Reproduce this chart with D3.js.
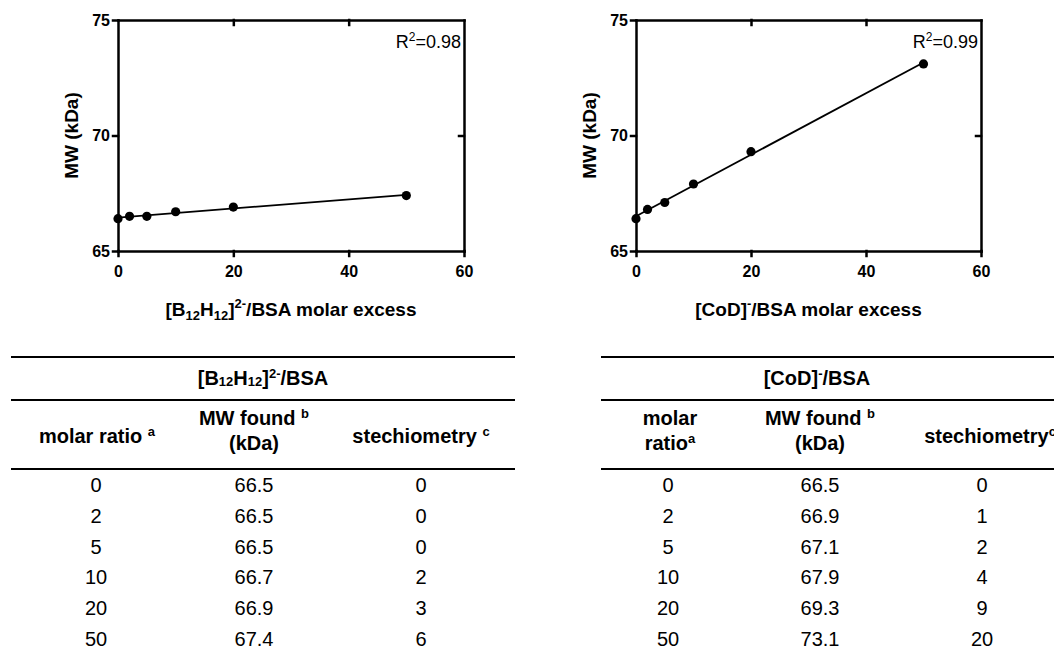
<!DOCTYPE html>
<html>
<head>
<meta charset="utf-8">
<title>MW vs molar excess</title>
<style>
  body { margin: 0; background: #fff; }
  svg { font-family: Arial, "Liberation Sans", Helvetica, sans-serif; }
  .axis path, .axis line { stroke: #000; stroke-width: 2.5px; stroke-linecap: square; }
  .axis text { font-size: 16px; font-weight: bold; fill: #000; font-family: Arial, "Liberation Sans", sans-serif; }
</style>
</head>
<body>
<script src="https://cdnjs.cloudflare.com/ajax/libs/d3/7.8.5/d3.min.js"></script>
<script>
// ---- data ----
var ratios = [0, 2, 5, 10, 20, 50];

// points
var b12Points = [66.4, 66.5, 66.5, 66.7, 66.9, 67.4];
var codPoints = [66.4, 66.8, 67.1, 67.9, 69.3, 73.1];

// table values
var b12MW = [66.5, 66.5, 66.5, 66.7, 66.9, 67.4];
var b12Stoich = [0, 0, 0, 2, 3, 6];
var codMW = [66.5, 66.9, 67.1, 67.9, 69.3, 73.1];
var codStoich = [0, 1, 2, 4, 9, 20];

var xTicks = [0, 20, 40, 60];
var yTicks = [65, 70, 75];
var b12R2 = "0.98";
var codR2 = "0.99";

var svg = d3.select("body").append("svg")
    .attr("width", 1054)
    .attr("height", 663);

// text with sub/superscripts: parts = [[text, kind], ...]
function richText(g, parts, opts) {
    var t = g.append("text")
        .attr("x", opts.x).attr("y", opts.y)
        .attr("text-anchor", opts.anchor || "middle")
        .attr("font-size", opts.size)
        .attr("font-weight", opts.weight || "normal")
        .attr("fill", "#000");
    var offset = 0;
    parts.forEach(function(p) {
        var kind = p[1] || "";
        var shift = 0, size = null;
        if (kind === "sub") { shift = opts.subShift; size = opts.subSize; }
        if (kind === "sup") { shift = -opts.supShift; size = opts.supSize; }
        var ts = t.append("tspan").text(p[0]).attr("dy", shift - offset);
        if (size) ts.attr("font-size", size);
        offset = shift;
    });
    return t;
}

/*********************************
 * Scatter plots with linear fit
 *********************************/

function drawPlot(left, right, values, r2, titleParts) {
    var top = 20, bottom = 251;
    var x = d3.scaleLinear().domain([0, 60]).range([left, right]);
    var y = d3.scaleLinear().domain([65, 75]).range([bottom, top]);
    var g = svg.append("g");

    // least squares fit
    var mx = d3.mean(ratios), my = d3.mean(values);
    var sxy = d3.sum(ratios, function(d, i) { return (d - mx) * (values[i] - my); });
    var sxx = d3.sum(ratios, function(d) { return (d - mx) * (d - mx); });
    var slope = sxy / sxx, icept = my - slope * mx;
    var ends = [0, d3.max(ratios)];

    g.append("path")
        .datum(ends)
        .attr("fill", "none")
        .attr("stroke", "#000")
        .attr("stroke-width", 1.8)
        .attr("d", d3.line()
            .x(function(d) { return x(d); })
            .y(function(d) { return y(icept + slope * d); }));

    g.selectAll("circle")
        .data(ratios)
        .enter()
        .append("circle")
        .attr("cx", function(d) { return x(d); })
        .attr("cy", function(d, i) { return y(values[i]); })
        .attr("r", 4.6)
        .attr("fill", "#000");

    g.append("g").attr("class", "axis")
        .attr("transform", "translate(0," + top + ")")
        .call(d3.axisTop(x).tickValues([20, 40]).tickSize(-5).tickSizeOuter(0).tickFormat(""));
    g.append("g").attr("class", "axis")
        .attr("transform", "translate(" + right + ",0)")
        .call(d3.axisRight(y).tickValues([70]).tickSize(-5).tickSizeOuter(0).tickFormat(""));
    g.append("g").attr("class", "axis")
        .attr("transform", "translate(0," + bottom + ")")
        .call(d3.axisBottom(x).tickValues(xTicks).tickSize(5).tickSizeOuter(0).tickPadding(10));
    g.append("g").attr("class", "axis")
        .attr("transform", "translate(" + left + ",0)")
        .call(d3.axisLeft(y).tickValues(yTicks).tickSize(5).tickSizeOuter(0).tickPadding(3));

    // R squared
    richText(g, [["R"], ["2", "sup"], ["=" + r2]], {
        x: right - 3, y: 48, anchor: "end", size: 18,
        supShift: 7, supSize: 12
    });

    // y title
    g.append("text")
        .attr("transform", "translate(" + (left - 40) + "," + ((top + bottom) / 2) + ") rotate(-90)")
        .attr("text-anchor", "middle")
        .attr("font-size", 19)
        .attr("font-weight", "bold")
        .text("MW (kDa)");

    // x title
    richText(g, titleParts, {
        x: (left + right) / 2, y: 316, size: 19, weight: "bold",
        subShift: 4, subSize: 13, supShift: 8, supSize: 13
    });
}

drawPlot(118, 464, b12Points, b12R2,
    [["[B"], ["12", "sub"], ["H"], ["12", "sub"], ["]"], ["2-", "sup"], ["/BSA molar excess"]]);
drawPlot(636, 981, codPoints, codR2,
    [["[CoD]"], ["-", "sup"], ["/BSA molar excess"]]);

/*********************************
 * Tables
 *********************************/

function drawTable(x0, x1, titleX, headCols, cols, titleParts, headers, mw, stoich) {
    var g = svg.append("g");
    [357, 400, 469].forEach(function(yy) {
        g.append("line")
            .attr("x1", x0).attr("x2", x1)
            .attr("y1", yy).attr("y2", yy)
            .attr("stroke", "#000")
            .attr("stroke-width", 2.2);
    });

    richText(g, titleParts, {
        x: titleX, y: 385, size: 20, weight: "bold",
        subShift: 1, subSize: 13, supShift: 7, supSize: 13
    });

    headers.forEach(function(h, i) {
        h.forEach(function(line, j) {
            var yy = h.length === 1 ? 443 : (j === 0 ? 425 : 450);
            richText(g, line, {
                x: headCols[i], y: yy, size: 20, weight: "bold",
                supShift: 7, supSize: 13
            });
        });
    });

    var rowY = d3.scalePoint().domain(d3.range(ratios.length)).range([492, 646]);
    var cells = [ratios.map(String), mw.map(function(d) { return d.toFixed(1); }), stoich.map(String)];
    cells.forEach(function(col, i) {
        g.selectAll(null)
            .data(col)
            .enter()
            .append("text")
            .attr("x", cols[i])
            .attr("y", function(d, k) { return rowY(k); })
            .attr("text-anchor", "middle")
            .attr("font-size", 20)
            .text(function(d) { return d; });
    });
}

drawTable(11, 515, 263, [97, 254, 421], [96, 254, 421],
    [["[B"], ["12", "sub"], ["H"], ["12", "sub"], ["]"], ["2-", "sup"], ["/BSA"]],
    [
        [[["molar ratio "], ["a", "sup"]]],
        [[["MW found "], ["b", "sup"]], [["(kDa)"]]],
        [[["stechiometry "], ["c", "sup"]]]
    ],
    b12MW, b12Stoich);

drawTable(601, 1110, 817, [670, 820, 990], [668, 820, 982],
    [["[CoD]"], ["-", "sup"], ["/BSA"]],
    [
        [[["molar"]], [["ratio"], ["a", "sup"]]],
        [[["MW found "], ["b", "sup"]], [["(kDa)"]]],
        [[["stechiometry"], ["c", "sup"]]]
    ],
    codMW, codStoich);
</script>
</body>
</html>
